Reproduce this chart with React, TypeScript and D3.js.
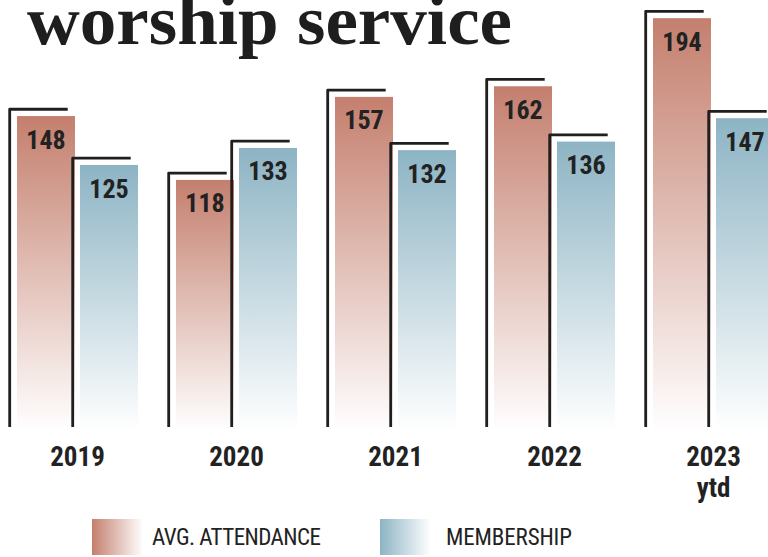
import React from "react";
import * as d3 from "d3";

const years = ["2019", "2020", "2021", "2022", "2023"];
const yearSub = ["", "", "", "", "ytd"];
const attendance = [148, 118, 157, 162, 194];
const membership = [125, 133, 132, 136, 147];
const seriesKeys = ["attendance", "membership"];
const seriesLabels = ["AVG. ATTENDANCE", "MEMBERSHIP"];
const seriesColors = ["#c47f6e", "#8db4c4"];
const title = "worship service";

const W = 768;
const H = 557;
const BASE = 431;

export default function App() {
  const x0 = d3.scaleBand<string>().domain(years).range([17, 17 + 5 * 159 - 38]).paddingInner(38 / 159).paddingOuter(0);
  const x1 = d3.scaleBand<string>().domain(seriesKeys).range([0, x0.bandwidth()]).paddingInner(0.0794).paddingOuter(0);
  const y = d3.scaleLinear().domain([0, 200]).range([BASE, BASE - 425.6]);
  const bw = x1.bandwidth();
  const off = 7.3;
  const offY = 6.8;
  const condensed = "'Liberation Sans Narrow', 'Roboto Condensed', 'DejaVu Sans Condensed', sans-serif";

  const rows = years.map((yr, i) => ({ yr, sub: yearSub[i], vals: [attendance[i], membership[i]] }));

  return (
    <svg width={W} height={H} style={{ position: "absolute", left: 0, top: 0, background: "#fff" }}>
      <defs>
        {seriesKeys.map((k, j) => (
          <linearGradient key={k} id={`g-${k}`} x1="0" y1="0" x2="0" y2="1">
            <stop offset="0" stopColor={seriesColors[j]} stopOpacity={1} />
            <stop offset="1" stopColor={seriesColors[j]} stopOpacity={0} />
          </linearGradient>
        ))}
        {seriesKeys.map((k, j) => (
          <linearGradient key={k} id={`lg-${k}`} x1="0" y1="0" x2="1" y2="0">
            <stop offset="0" stopColor={seriesColors[j]} stopOpacity={1} />
            <stop offset="1" stopColor={seriesColors[j]} stopOpacity={0} />
          </linearGradient>
        ))}
      </defs>
      <text
        x={27}
        y={44}
        fontFamily="'Liberation Serif', 'DejaVu Serif', serif"
        fontWeight="bold"
        fontSize={70}
        fill="#1e1e1e"
        textLength={485}
        lengthAdjust="spacingAndGlyphs"
      >
        {title}
      </text>
      {rows.map((r) => {
        const gx = x0(r.yr)!;
        return (
          <g key={r.yr}>
            {r.vals.map((v, j) => {
              const bx = gx + x1(seriesKeys[j])!;
              const top = y(v);
              const lx = bx - off;
              const ly = top - offY;
              return (
                <g key={j}>
                  <rect x={bx} y={top} width={bw} height={BASE - top} fill={`url(#g-${seriesKeys[j]})`} />
                  <path
                    d={`M${lx},427 L${lx},${ly} L${lx + bw},${ly}`}
                    fill="none"
                    stroke="#1f1f1f"
                    strokeWidth={2.8}
                    strokeLinejoin="round"
                    strokeLinecap="butt"
                  />
                  <text
                    x={bx + bw / 2}
                    y={top + 32.5}
                    textAnchor="middle"
                    fontFamily={condensed}
                    fontWeight="bold"
                    fontSize={26}
                    fill="#222"
                  >
                    {v}
                  </text>
                </g>
              );
            })}
            <text
              x={gx + x0.bandwidth() / 2}
              y={466}
              textAnchor="middle"
              fontFamily={condensed}
              fontWeight="bold"
              fontSize={27}
              fill="#222"
            >
              {r.yr}
            </text>
            {r.sub && (
              <text
                x={gx + x0.bandwidth() / 2}
                y={497}
                textAnchor="middle"
                fontFamily={condensed}
                fontWeight="bold"
                fontSize={27}
                fill="#222"
              >
                {r.sub}
              </text>
            )}
          </g>
        );
      })}
      {seriesKeys.map((k, j) => {
        const lx = [92, 380][j];
        const tx = [152, 446][j];
        const tl = [169, 126][j];
        return (
          <g key={k}>
            <rect x={lx} y={519} width={51} height={36} fill={`url(#lg-${k})`} />
            <text
              x={tx}
              y={545}
              fontFamily={condensed}
              fontSize={23}
              fill="#222"
              textLength={tl}
              lengthAdjust="spacing"
            >
              {seriesLabels[j]}
            </text>
          </g>
        );
      })}
    </svg>
  );
}
